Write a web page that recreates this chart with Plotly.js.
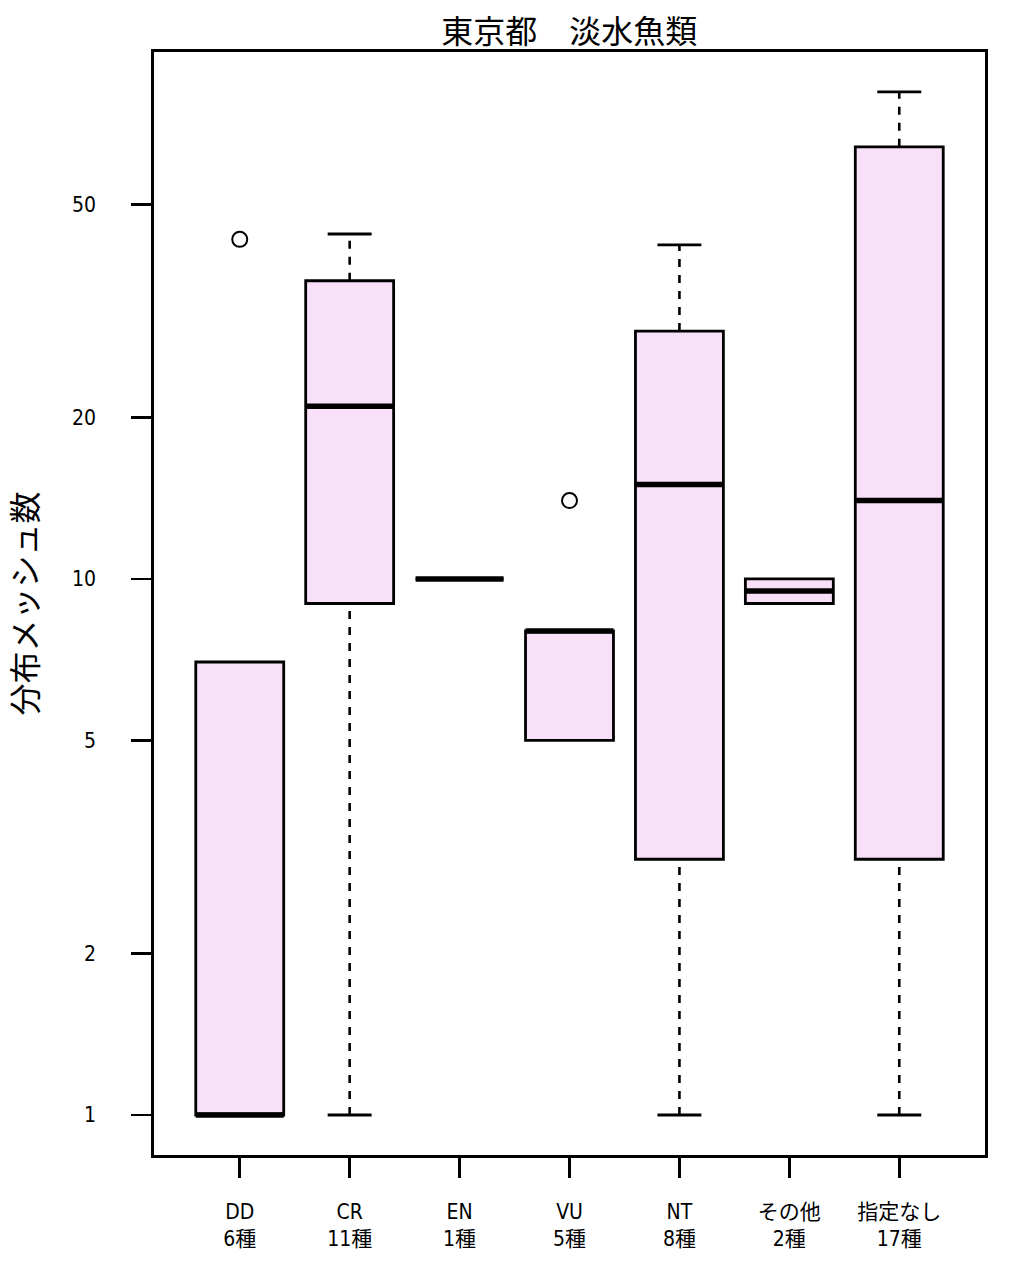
<!DOCTYPE html>
<html><head><meta charset="utf-8">
<script src="https://cdn.plot.ly/plotly-3.0.1.min.js"></script>
<style>body{margin:0;background:#fff}</style>
</head><body>
<div id="chart" style="width:1010px;height:1262px"></div>
<script>
const categories = ["DD", "CR", "EN", "VU", "NT", "その他", "指定なし"];
const speciesCounts = [6, 11, 1, 5, 8, 2, 17];
const lowerWhisker = [1, 1, 10, 5, 1, 9, 1];
const q1 = [1, 9, 10, 5, 3, 9, 3];
const median = [1, 21, 10, 8, 15, 9.5, 14];
const q3 = [7, 36, 10, 8, 29, 10, 64];
const upperWhisker = [7, 44, 10, 8, 42, 10, 81];
const outlierCats = ["DD", "VU"];
const outlierValues = [43, 14];
const yTicks = [1, 2, 5, 10, 20, 50];

const xPos = categories.map((c, i) => i + 1);
const tickText = categories.map((c, i) => c + "<br>" + speciesCounts[i] + "種");
const boxHalf = 0.4, capHalf = 0.2;

const traces = [];
traces.push({
  type: "box", x: xPos, q1: q1, median: median, q3: q3,
  lowerfence: q1, upperfence: q3, width: 0.8, whiskerwidth: 0,
  fillcolor: "#F9E0F9", line: {color: "#000", width: 2.8},
  boxpoints: false, hoverinfo: "skip", showlegend: false
});
const wx = [], wy = [];
xPos.forEach((x, i) => {
  if (upperWhisker[i] > q3[i]) { wx.push(x, x, null); wy.push(q3[i], upperWhisker[i], null); }
  if (lowerWhisker[i] < q1[i]) { wx.push(x, x, null); wy.push(lowerWhisker[i], q1[i], null); }
});
traces.push({type: "scatter", mode: "lines", x: wx, y: wy, line: {color: "#000", width: 2.6, dash: "8px,8px"}, hoverinfo: "skip", showlegend: false});
const cx = [], cy = [];
xPos.forEach((x, i) => {
  if (upperWhisker[i] > q3[i]) { cx.push(x - capHalf, x + capHalf, null); cy.push(upperWhisker[i], upperWhisker[i], null); }
  if (lowerWhisker[i] < q1[i]) { cx.push(x - capHalf, x + capHalf, null); cy.push(lowerWhisker[i], lowerWhisker[i], null); }
});
traces.push({type: "scatter", mode: "lines", x: cx, y: cy, line: {color: "#000", width: 2.8}, hoverinfo: "skip", showlegend: false});
const mx = [], my = [];
xPos.forEach((x, i) => { mx.push(x - boxHalf, x + boxHalf, null); my.push(median[i], median[i], null); });
traces.push({type: "scatter", mode: "lines", x: mx, y: my, line: {color: "#000", width: 5.5}, hoverinfo: "skip", showlegend: false});
traces.push({type: "scatter", mode: "markers",
  x: outlierCats.map(c => categories.indexOf(c) + 1), y: outlierValues,
  marker: {symbol: "circle-open", size: 15, color: "#000", line: {width: 2}},
  hoverinfo: "skip", showlegend: false});

const tickFont = {family: "'Liberation Sans Narrow', 'DejaVu Sans Condensed', 'Noto Sans CJK JP', sans-serif", size: 21, color: "#000"};
const layout = {
  width: 1010, height: 1262,
  margin: {l: 154, r: 25, t: 52, b: 107},
  paper_bgcolor: "#fff", plot_bgcolor: "#fff",
  showlegend: false,
  title: {text: "東京都　淡水魚類", font: {family: "'Noto Sans CJK JP', sans-serif", size: 32, color: "#000"},
          x: 0.5635, xanchor: "center", y: 0.975, yanchor: "middle"},
  xaxis: {
    range: [0.22, 7.78], tickvals: xPos, ticktext: tickText,
    showgrid: false, zeroline: false,
    showline: true, mirror: true, linecolor: "#000", linewidth: 2.8,
    ticks: "outside", ticklen: 20, tickwidth: 2.8, tickcolor: "#000",
    tickfont: tickFont, ticklabelstandoff: 16
  },
  yaxis: {
    type: "log", range: [-0.0746, 1.983], tickvals: yTicks, ticktext: yTicks.map(String),
    showgrid: false, zeroline: false,
    showline: true, mirror: true, linecolor: "#000", linewidth: 2.8,
    ticks: "outside", ticklen: 20, tickwidth: 2.8, tickcolor: "#000",
    tickfont: tickFont, ticklabelstandoff: 31,
    title: {text: "分布メッシュ数", font: {family: "'Noto Sans CJK JP', sans-serif", size: 32, color: "#000"}, standoff: 42}
  }
};
Plotly.newPlot("chart", traces, layout, {displayModeBar: false, staticPlot: true});
</script>
</body></html>
